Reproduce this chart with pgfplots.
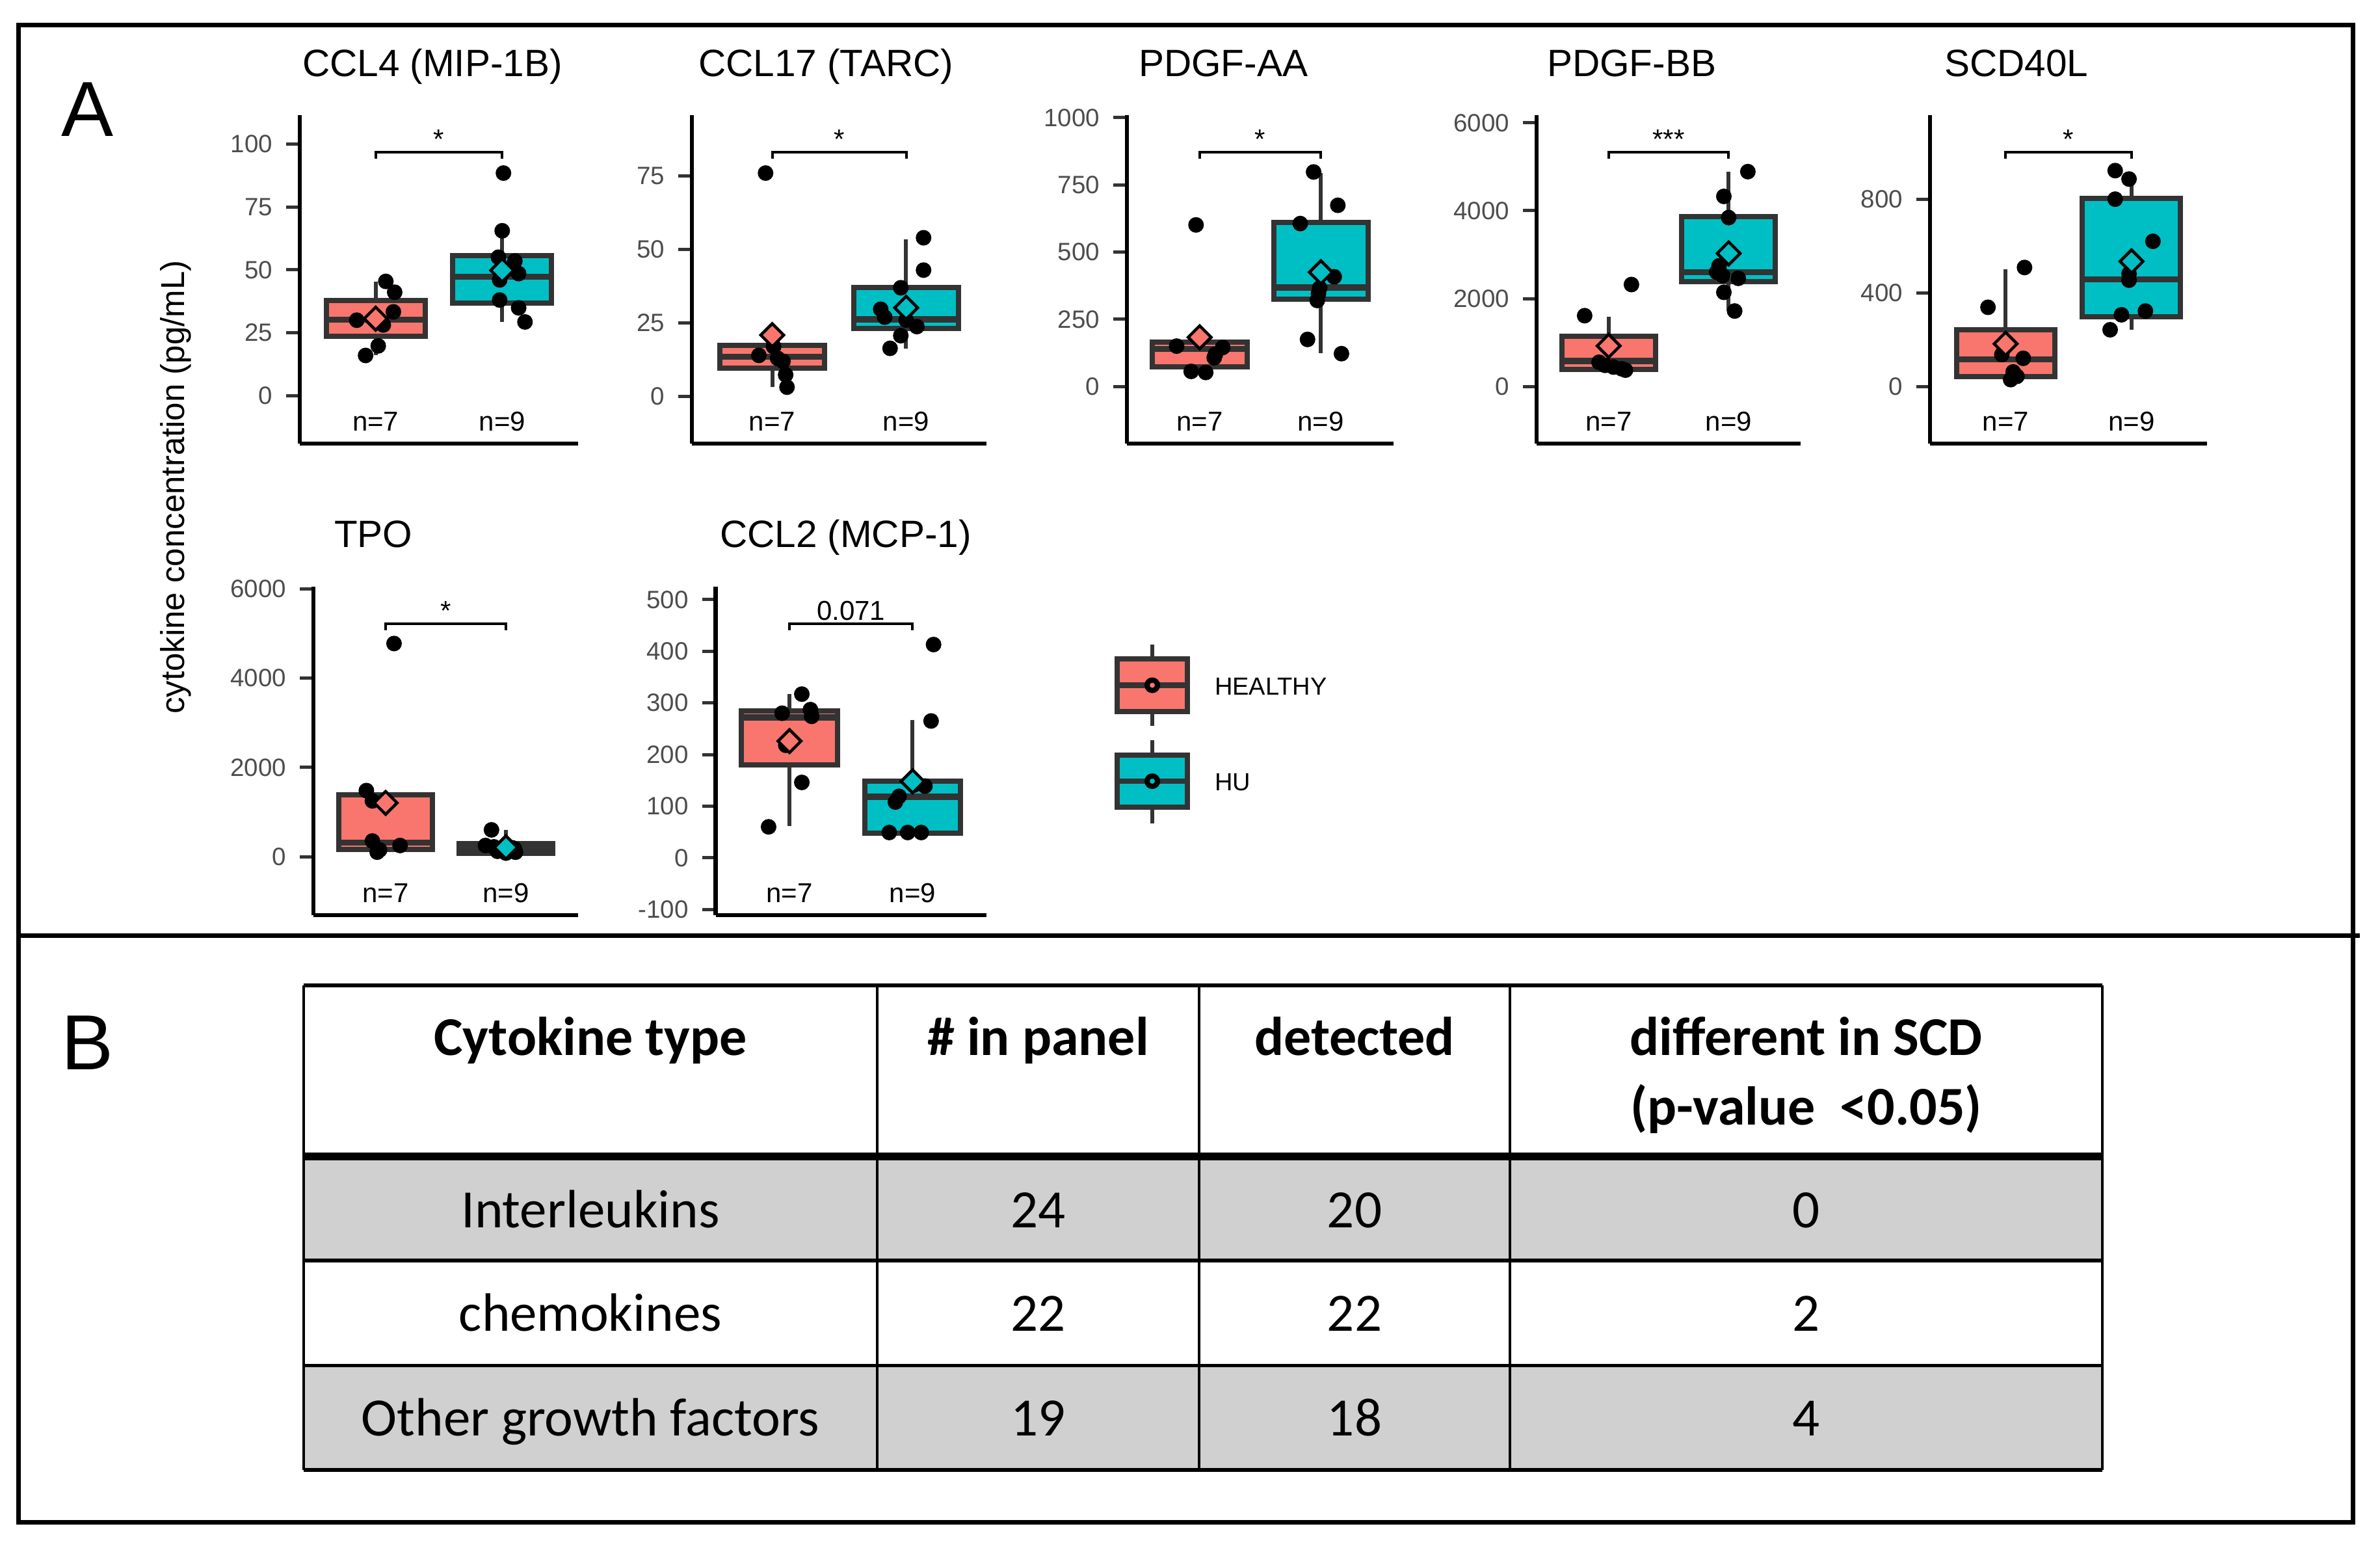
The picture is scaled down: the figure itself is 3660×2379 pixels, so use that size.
\documentclass[border=0pt]{standalone}
\usepackage{fontspec}
\setmainfont{Liberation Sans}
\newfontfamily\calibri{Carlito}
\usepackage{pgfplots}
\pgfplotsset{compat=1.18}

\definecolor{hred}{HTML}{F8766D}
\definecolor{hteal}{HTML}{00BFC4}
\definecolor{boxgray}{HTML}{333333}
\definecolor{ticktext}{HTML}{4D4D4D}
\definecolor{rowgray}{HTML}{D0D0D0}

\newcommand\tickfont{\fontsize{7.7}{9}\selectfont}
\newcommand\nfont{\fontsize{8.4}{10}\selectfont}
\newcommand\ttlfont{\fontsize{11.7}{14}\selectfont}
\newcommand\hdfont{\calibri\bfseries\fontsize{16.8}{20}\selectfont}
\newcommand\bdfont{\calibri\fontsize{16.6}{20}\selectfont}

% n labels and significance bracket, inside each panel
\newcommand\nlabels{%
  \node[font=\nfont, anchor=base, inner sep=0pt] at (rel axis cs:0.2727,0.038) {n=7};
  \node[font=\nfont, anchor=base, inner sep=0pt] at (rel axis cs:0.7273,0.038) {n=9};}
\newcommand\bracket[1]{%
  \draw[line width=0.8pt] (rel axis cs:0.2727,0.868) |- (rel axis cs:0.7273,0.888) -- (rel axis cs:0.7273,0.868);
  \node[font=\nfont, anchor=base, inner sep=0pt] at (rel axis cs:0.5,0.899) {#1};}

% box: lower whisker, lower quartile, median, upper quartile, upper whisker
\newcommand\healthybox[5]{%
  \addplot[boxgray, line width=1.2pt] coordinates {(1,#1) (1,#2)};
  \addplot[boxgray, line width=1.2pt] coordinates {(1,#4) (1,#5)};
  \addplot[draw=boxgray, fill=hred, line width=1.6pt] coordinates {(0.61,#2) (1.39,#2) (1.39,#4) (0.61,#4)} -- cycle;
  \addplot[boxgray, line width=1.9pt] coordinates {(0.61,#3) (1.39,#3)};}
\newcommand\hubox[5]{%
  \addplot[boxgray, line width=1.2pt] coordinates {(2,#1) (2,#2)};
  \addplot[boxgray, line width=1.2pt] coordinates {(2,#4) (2,#5)};
  \addplot[draw=boxgray, fill=hteal, line width=1.6pt] coordinates {(1.61,#2) (2.39,#2) (2.39,#4) (1.61,#4)} -- cycle;
  \addplot[boxgray, line width=1.9pt] coordinates {(1.61,#3) (2.39,#3)};}

\pgfplotsset{
  panel/.style={
    scale only axis, anchor=south west, height=101pt,
    xmin=0.4, xmax=2.6, xtick=\empty,
    axis lines=left,
    axis line style={-, line width=1.3pt, black},
    tick align=outside, major tick length=4.2pt,
    ytick style={line width=1pt, boxgray},
    yticklabel style={font=\tickfont, text=ticktext, inner sep=0pt},
    yticklabel shift=4pt,
    scaled y ticks=false,
    /pgf/number format/1000 sep={},
    /pgf/number format/assume math mode=true,
    clip=false,
  },
  dots/.style={only marks, mark=*, mark size=2.2pt, black},
  hmean/.style={only marks, mark=square*, mark size=2.5pt,
    mark options={rotate=45, fill=hred, draw=black, line width=0.9pt}},
  umean/.style={only marks, mark=square*, mark size=2.5pt,
    mark options={rotate=45, fill=hteal, draw=black, line width=0.9pt}},
}

\begin{document}
\begin{tikzpicture}

% ---------- CCL4 ----------
\begin{axis}[panel, at={(92.2pt,-136.4pt)}, width=85.6pt,
  ymin=-19, ymax=111.4, ytick={0,25,50,75,100}]
\healthybox{16}{23.5}{30.2}{37.7}{45.4}
\hubox{29.3}{36.8}{47.3}{55.7}{65.5}
\addplot[dots] coordinates {(1.08,45.4) (1.15,41.1) (1.14,33.3) (0.85,30) (1.06,28.1) (1.02,19.8) (0.92,16)};
\addplot[dots] coordinates {(2.01,88.4) (2.00,65.5) (1.97,55) (2.10,53.5) (2.13,48.5) (1.98,46) (1.98,38) (2.13,34.9) (2.18,29.3)};
\addplot[hmean] coordinates {(1,30.6)};
\addplot[umean] coordinates {(2,49.8)};
\nlabels
\bracket{*}
\end{axis}

% ---------- CCL17 ----------
\begin{axis}[panel, at={(212.8pt,-136.4pt)}, width=90.6pt,
  ymin=-16, ymax=95.7, ytick={0,25,50,75}]
\healthybox{3.2}{9.7}{13.5}{17.3}{17.3}
\hubox{16.4}{23.1}{26.2}{37.1}{53.5}
\addplot[dots] coordinates {(0.95,76) (1.01,17) (0.90,14) (1.04,13) (1.08,12) (1.10,7.4) (1.11,3.2)};
\addplot[dots] coordinates {(2.13,54) (2.13,43) (1.96,37) (1.81,29.7) (1.84,27) (2.00,26) (2.08,23.8) (1.96,20.7) (1.88,16.4)};
\addplot[hmean] coordinates {(1,20.9)};
\addplot[umean] coordinates {(2,30.2)};
\nlabels
\bracket{*}
\end{axis}

% ---------- PDGF-AA ----------
\begin{axis}[panel, at={(346.6pt,-136.4pt)}, width=82pt,
  ymin=-212.7, ymax=1009.4, ytick={0,250,500,750,1000}]
\healthybox{52}{73}{140}{166}{166}
\hubox{124}{324}{368}{610}{794}
\addplot[dots] coordinates {(0.97,601) (0.81,150) (1.19,145) (1.13,120) (1.12,107) (0.93,56) (1.05,52)};
\addplot[dots] coordinates {(1.94,798) (2.14,674) (1.83,606) (2.11,408) (1.99,366) (1.98,345) (1.97,320) (1.89,175) (2.17,122)};
\addplot[hmean] coordinates {(1,183)};
\addplot[umean] coordinates {(2,425)};
\nlabels
\bracket{*}
\end{axis}

% ---------- PDGF-BB ----------
\begin{axis}[panel, at={(472.6pt,-136.4pt)}, width=81.2pt,
  ymin=-1303, ymax=6176, ytick={0,2000,4000,6000}]
\healthybox{370}{383}{582}{1135}{1589}
\hubox{1716}{2390}{2600}{3865}{4887}
\addplot[dots] coordinates {(1.19,2319) (0.80,1610) (0.92,550) (0.97,480) (1.04,440) (1.11,400) (1.14,370)};
\addplot[dots] coordinates {(2.16,4890) (1.96,4326) (2.00,3844) (1.92,2745) (1.90,2603) (1.95,2525) (2.08,2461) (1.96,2142) (2.05,1716)};
\addplot[hmean] coordinates {(1,922)};
\addplot[umean] coordinates {(2,3028)};
\nlabels
\bracket{***}
\end{axis}

% ---------- SCD40L ----------
\begin{axis}[panel, at={(593.6pt,-136.4pt)}, width=85.2pt,
  ymin=-244.5, ymax=1159, ytick={0,400,800}]
\healthybox{29}{43}{116}{242}{501}
\hubox{242}{298}{458}{803}{895}
\addplot[dots] coordinates {(1.15,508) (0.86,338) (0.97,136) (1.14,120) (1.06,62) (1.09,43) (1.04,29)};
\addplot[dots] coordinates {(1.87,922) (1.98,886) (1.87,800) (2.17,620) (1.98,481) (1.98,454) (1.92,306) (2.11,322) (1.83,242)};
\addplot[hmean] coordinates {(1,182)};
\addplot[umean] coordinates {(2,534)};
\nlabels
\bracket{*}
\end{axis}

% ---------- TPO ----------
\begin{axis}[panel, at={(96.4pt,-281.4pt)}, width=81.4pt,
  ymin=-1311.6, ymax=6048, ytick={0,2000,4000,6000}]
\healthybox{100}{163}{313}{1381}{1480}
\hubox{78}{79}{195}{294}{600}
\addplot[dots] coordinates {(1.07,4775) (0.84,1480) (0.89,1250) (0.89,350) (1.12,250) (0.95,150) (0.93,100)};
\addplot[dots] coordinates {(1.88,600) (1.83,250) (1.90,220) (2.05,200) (2.07,180) (1.95,150) (1.93,120) (2.08,100) (2.00,80)};
\addplot[hmean] coordinates {(1,1205)};
\addplot[umean] coordinates {(2,208)};
\nlabels
\bracket{*}
\end{axis}

% ---------- CCL2 ----------
\begin{axis}[panel, at={(220.1pt,-281.4pt)}, width=83.3pt,
  ymin=-111.1, ymax=525, ytick={-100,0,100,200,300,400,500}]
\healthybox{61}{180}{272}{284}{317}
\hubox{47}{47.5}{118}{148}{267}
\addplot[dots] coordinates {(1.10,317) (1.17,287) (0.94,280) (1.18,274) (0.97,218) (1.10,146) (0.83,60)};
\addplot[dots] coordinates {(2.17,413) (2.15,265) (2.10,139) (2.01,141) (1.89,119) (1.86,108) (1.81,49) (1.96,49) (2.07,49)};
\addplot[hmean] coordinates {(1,226)};
\addplot[umean] coordinates {(2,148)};
\nlabels
\bracket{0.071}
\end{axis}

% ---------- frame, labels, legend, table (reference pixel grid) ----------
\begin{scope}[x=0.2pt, y=-0.2pt]
\path (0,0) rectangle (3660,2379);
\draw[line width=1.4pt] (28,38) rectangle (3618,2340);
\draw[line width=1.4pt] (28,1438) -- (3629,1438);

\node[anchor=base west, inner sep=0pt, font=\fontsize{24}{28}\selectfont] at (93,209.5) {A};
\node[anchor=base west, inner sep=0pt, font=\fontsize{24}{28}\selectfont] at (93,1644.7) {B};
\node[rotate=90, font=\fontsize{10.2}{12}\selectfont] at (270,749) {cytokine concentration (pg/mL)};

\node[anchor=base west, inner sep=0pt, font=\ttlfont] at (464,117) {CCL4 (MIP-1B)};
\node[anchor=base west, inner sep=0pt, font=\ttlfont] at (1073,117) {CCL17 (TARC)};
\node[anchor=base west, inner sep=0pt, font=\ttlfont] at (1750,117) {PDGF-AA};
\node[anchor=base west, inner sep=0pt, font=\ttlfont] at (2378,117) {PDGF-BB};
\node[anchor=base west, inner sep=0pt, font=\ttlfont] at (2989,117) {SCD40L};
\node[anchor=base west, inner sep=0pt, font=\ttlfont] at (513,841.5) {TPO};
\node[anchor=base west, inner sep=0pt, font=\ttlfont] at (1106,841.5) {CCL2 (MCP-1)};

% legend
\draw[line width=1.2pt, boxgray] (1772,991) -- (1772,1116);
\draw[line width=1.6pt, draw=boxgray, fill=hred] (1718,1013) rectangle (1826,1094);
\draw[line width=1.7pt, boxgray] (1718,1053.5) -- (1826,1053.5);
\draw[line width=1.6pt, black, fill=hred] (1772,1053.5) circle (1.6pt);
\draw[line width=1.2pt, boxgray] (1772,1138) -- (1772,1266);
\draw[line width=1.6pt, draw=boxgray, fill=hteal] (1718,1161) rectangle (1826,1241);
\draw[line width=1.7pt, boxgray] (1718,1201) -- (1826,1201);
\draw[line width=1.6pt, black, fill=hteal] (1772,1201) circle (1.6pt);
\node[anchor=base west, inner sep=0pt, font=\fontsize{7.6}{9}\selectfont] at (1867,1068.6) {HEALTHY};
\node[anchor=base west, inner sep=0pt, font=\fontsize{7.6}{9}\selectfont] at (1867,1215.6) {HU};

% table
\fill[rowgray] (467,1778) rectangle (3233,1938);
\fill[rowgray] (467,2099.5) rectangle (3233,2260);
\foreach \x in {467,1349,1844,2322,3233} \draw[line width=0.7pt] (\x,1515) -- (\x,2260);
\draw[line width=1.3pt] (467,1515) -- (3233,1515);
\draw[line width=2.4pt] (467,1778) -- (3233,1778);
\draw[line width=1.1pt] (467,1938) -- (3233,1938);
\draw[line width=1.1pt] (467,2099.5) -- (3233,2099.5);
\draw[line width=1.3pt] (467,2260) -- (3233,2260);

\node[anchor=base, inner sep=0pt, font=\hdfont] at (908,1622) {Cytokine type};
\node[anchor=base, inner sep=0pt, font=\hdfont] at (1596.5,1622) {\# in panel};
\node[anchor=base, inner sep=0pt, font=\hdfont] at (2083,1622) {detected};
\node[anchor=base, inner sep=0pt, font=\hdfont] at (2777.5,1622) {different in SCD};
\node[anchor=base, inner sep=0pt, font=\hdfont] at (2777.5,1729) {(p-value\ \ <0.05)};

\node[anchor=base, inner sep=0pt, font=\bdfont] at (908,1887) {Interleukins};
\node[anchor=base, inner sep=0pt, font=\bdfont] at (1596.5,1887) {24};
\node[anchor=base, inner sep=0pt, font=\bdfont] at (2083,1887) {20};
\node[anchor=base, inner sep=0pt, font=\bdfont] at (2777.5,1887) {0};
\node[anchor=base, inner sep=0pt, font=\bdfont] at (908,2046.5) {chemokines};
\node[anchor=base, inner sep=0pt, font=\bdfont] at (1596.5,2046.5) {22};
\node[anchor=base, inner sep=0pt, font=\bdfont] at (2083,2046.5) {22};
\node[anchor=base, inner sep=0pt, font=\bdfont] at (2777.5,2046.5) {2};
\node[anchor=base, inner sep=0pt, font=\bdfont] at (908,2207) {Other growth factors};
\node[anchor=base, inner sep=0pt, font=\bdfont] at (1596.5,2207) {19};
\node[anchor=base, inner sep=0pt, font=\bdfont] at (2083,2207) {18};
\node[anchor=base, inner sep=0pt, font=\bdfont] at (2777.5,2207) {4};
\end{scope}
\end{tikzpicture}
\end{document}
